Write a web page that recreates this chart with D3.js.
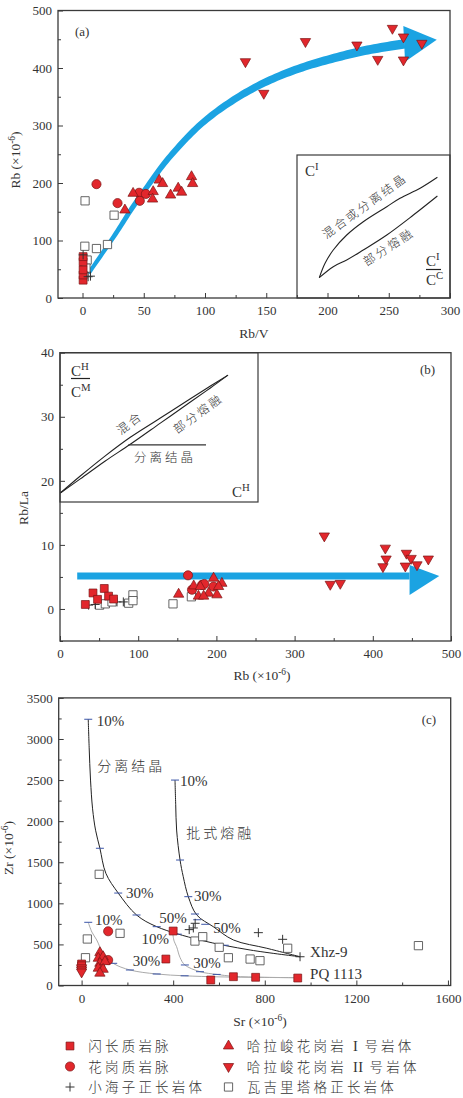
<!DOCTYPE html>
<html><head><meta charset="utf-8">
<script src="https://cdn.jsdelivr.net/npm/d3@7"></script>
<style>
body{margin:0;background:#fff}
svg text{font-family:"Liberation Serif","Times New Roman",serif;fill:#333}
.cjk{font-family:"Noto Sans CJK SC",sans-serif !important;font-weight:300}
</style>
</head><body>
<svg id="chart" width="463" height="1098"></svg>
<script>
// ---------------- DATA ----------------
// Panel (a): Rb/V vs Rb
const aDiorite   = [[0.5,31],[0.5,40],[0.5,49],[0.5,63],[0.5,72]];
const aGranVein  = [[11.4,198],[28.6,165],[46.2,183],[46.8,169],[51.7,181]];
const aXhz       = [[0.5,75],[4.6,37],[6.5,38]];
const aHalaI     = [[34.6,153],[41.3,182],[57.7,185],[57.2,172],[62.6,205],[65.4,199],[71.9,179],[78.1,191],[80.9,184],[89,211],[89.9,199]];
const aHalaII    = [[133,411],[148,356],[182,446],[224,440],[241,415],[253,469],[262,454],[262,414],[277,443]];
const aWajili    = [[2.1,169],[1.9,90],[11.4,86],[20.4,93],[25.8,144],[1.9,57],[3.8,66],[2.8,52]];
const aArrowPath = [[5,43],[17,80],[29,118],[41,158],[55,200],[69,240],[96,301],[123,344],[150,376],[178,400],[205,417],[232,431],[263,442]];
const aArrowHead = [[261.9,473],[289.2,449],[263.3,411]];
const aInsetUpper = [[193.3,35.3],[198,60.3],[204.7,83.5],[215.7,109.6],[229.2,132.7],[248.4,158.8],[259.2,173.4],[275.6,190.8],[289.7,209.9]];
const aInsetLower = [[193.3,35.3],[204.7,54.4],[215.7,66.1],[229.2,83.5],[248.4,109.6],[270.1,144.3],[289.7,177.4]];
const aXTicks = [0,50,100,150,200,250,300], aXMinor = [25,75,125,175,225,275];
const aYTicks = [0,100,200,300,400,500],   aYMinor = [50,150,250,350,450];

// Panel (b): Rb vs Rb/La
const bDiorite  = [[32.4,0.7],[42.2,2.5],[48,1.5],[56.6,3.2],[62.1,2.0],[68.5,1.55]];
const bGranVein = [[163.7,5.25],[168.8,3.0],[181.6,3.75],[184.5,3.9],[196.4,3.5]];
const bXhz      = [[36.6,0.6],[45,0.7],[72.9,1.1],[81,1.1]];
const bHalaI    = [[151.7,2.3],[171,3.6],[179.4,3.5],[196.4,4.8],[207,4.0],[177,2.0],[190,2.45],[200.7,2.2],[202.8,3.5],[183.7,2.0]];
const bHalaII   = [[338,11.4],[416,9.5],[443,8.7],[471,7.8],[417,7.8],[449,7.9],[413,6.6],[441.6,6.7],[456.5,6.9],[345.6,3.85],[358.4,4.0]];
const bWajili   = [[50.6,0.6],[58,0.8],[87.8,0.9],[93.3,2.2],[93.3,1.3],[144.5,0.8],[168,1.9],[66.5,1.1]];
const bArrowPath = [[22,5.15],[447,5.15]];
const bArrowHead = [[447,6.86],[485,5.15],[447,2.18]];
const bInsetUpper = [[0.4,18.1],[25.96,20.75],[57.9,23.9],[89.9,26.8],[128.3,29.8],[166.7,32.8],[192.3,34.8],[214.8,36.5]];
const bInsetLower = [[0.4,18.1],[25.96,20.3],[57.9,23.1],[89.9,25.7],[128.3,29.0],[166.7,32.3],[192.3,34.5],[214.8,36.5]];
const bInsetFC    = [[87.4,25.6],[186.7,25.6]];
const bXTicks = [0,100,200,300,400,500], bXMinor = [50,150,250,350,450];
const bYTicks = [0,10,20,30,40],         bYMinor = [-5,5,15,25,35];

// Panel (c): Sr vs Zr
const cDiorite  = [[400,663],[368,322],[564,67],[663,107],[760,100],[944,91],[0,262],[0,240]];
const cGranVein = [[116,660],[116,310]];
const cXhz      = [[496,757],[488,700],[470,680],[772,643],[878,562],[954,350]];
const cHalaI    = [[80,400],[73,331],[94,350],[80,270],[102,290],[73,210],[94,197],[80,150]];
const cHalaII   = [[0,215],[0,190],[0,165]];
const cWajili   = [[77,1353],[25,566],[17,338],[168,635],[495,541],[529,594],[601,465],[641,338],[736,322],[779,302],[900,453],[1471,485]];
const cFC  = [[29,3240],[33,2900],[39,2500],[48,2150],[61,1890],[80,1670],[106,1365],[160,1125],[240,858],[328,716],[517,554],[736,432],[954,350]];
const cBM  = [[408,2500],[411,2200],[415,1892],[430,1527],[444,1324],[466,1081],[503,858],[575,716],[663,554],[809,453],[954,350]];
const cPQ1 = [[29,769],[45,650],[66,554],[94,392],[138,270],[211,189],[328,140],[450,118],[600,105],[800,98],[947,95]];
const cPQ2 = [[398,640],[404,540],[415,472],[430,340],[451,250],[517,168],[590,135],[663,112],[800,100],[947,95]];
const cFCTicks  = [[29,3240],[80,1670],[160,1125],[240,858],[328,716],[420,625],[517,554],[625,490]];
const cBMTicks  = [[408,2500],[430,1527],[466,1081],[495,870],[505,800],[540,745]];
const cPQ1Ticks = [[29,769],[138,270],[211,189],[328,140],[450,118]];
const cPQ2Ticks = [[398,640],[451,250],[517,168],[590,135]];
const cLabels = [[66,3158,"10%"],[430,2428,"10%"],[194,1065,"30%"],[491,1028,"30%"],[339,760,"50%"],[575,639,"50%"],
                 [58,736,"10%"],[262,505,"10%"],[223,237,"30%"],[488,219,"30%"],[998,343,"Xhz-9"],[998,79,"PQ 1113"]];
const cCnLabels = [[68,2610,"分离结晶"],[457,1795,"批式熔融"]];
const cXTicks = [0,400,800,1200,1600], cXMinor = [200,600,1000,1400];
const cYTicks = [0,500,1000,1500,2000,2500,3000,3500], cYMinor = [250,750,1250,1750,2250,2750,3250];

// Legend
const legendNames = [["闪长质岩脉"],["花岗质岩脉"],["小海子正长岩体"],["哈拉峻花岗岩","I","号岩体"],["哈拉峻花岗岩","II","号岩体"],["瓦吉里塔格正长岩体"]];
const legendTypes = ["sq","ci","plus","tu","td","osq"];

// ---------------- DRAWING ----------------
const RED = "#e2272c", REDS = "#7a1515", BLUE = "#1ba3e2", AX = "#3a3a3a";
const svg = d3.select("#chart");

function marker(g, type, x, y) {
  if (type === "plus") {
    g.append("path").attr("d", `M${x-4.5},${y}H${x+4.5}M${x},${y-4.5}V${y+4.5}`)
      .attr("stroke", "#333").attr("stroke-width", 1).attr("fill", "none");
    return;
  }
  const map = {sq:[d3.symbolSquare,62], osq:[d3.symbolSquare,68], ci:[d3.symbolCircle,66], tu:[d3.symbolTriangle,46], td:[d3.symbolTriangle,46]};
  const [t, s] = map[type];
  const p = g.append("path").attr("d", d3.symbol(t, s)())
    .attr("transform", `translate(${x},${y})` + (type === "td" ? " rotate(180)" : ""));
  if (type === "osq") p.attr("fill", "#fff").attr("stroke", "#555").attr("stroke-width", 0.9);
  else p.attr("fill", RED).attr("stroke", REDS).attr("stroke-width", 0.7);
}

function series(g, x, y, data, type) {
  data.forEach(d => marker(g, type, x(d[0]), y(d[1])));
}

function axes(g, x, y, xt, xm, yt, ym) {
  const [x0, x1] = x.range(), [y0, y1] = y.range();
  const bx = g.append("g").attr("transform", `translate(0,${y0})`);
  bx.call(d3.axisBottom(x).tickValues(xt).tickSize(-5).tickSizeOuter(0).tickPadding(8).tickFormat(d3.format("d")));
  bx.append("g").call(d3.axisBottom(x).tickValues(xm).tickSize(-3).tickSizeOuter(0).tickFormat(""));
  const ly = g.append("g").attr("transform", `translate(${x0},0)`);
  ly.call(d3.axisLeft(y).tickValues(yt).tickSize(-5).tickSizeOuter(0).tickPadding(6).tickFormat(d3.format("d")));
  ly.append("g").call(d3.axisLeft(y).tickValues(ym).tickSize(-3).tickSizeOuter(0).tickFormat(""));
  g.selectAll(".domain").remove();
  g.selectAll(".tick line").attr("stroke", AX).attr("stroke-width", 1);
  g.selectAll(".tick text").attr("font-size", 13).attr("fill", "#333").attr("font-family", "Liberation Serif");
  g.append("rect").attr("x", x0).attr("y", y1).attr("width", x1 - x0).attr("height", y0 - y1)
    .attr("fill", "none").attr("stroke", AX).attr("stroke-width", 1.3);
}

function taperArrow(g, pts, w0, w1) {
  const tmp = g.append("path").attr("d", d3.line().curve(d3.curveCatmullRom)(pts)).attr("fill", "none");
  const node = tmp.node(), L = node.getTotalLength(), N = 120;
  const samp = d3.range(N + 1).map(i => node.getPointAtLength(L * i / N));
  const left = [], right = [];
  samp.forEach((p, i) => {
    const a = samp[Math.max(0, i - 1)], b = samp[Math.min(N, i + 1)];
    const dx = b.x - a.x, dy = b.y - a.y, len = Math.hypot(dx, dy) || 1;
    const nx = -dy / len, ny = dx / len, w = (w0 + (w1 - w0) * i / N) / 2;
    left.push([p.x + nx * w, p.y + ny * w]);
    right.push([p.x - nx * w, p.y - ny * w]);
  });
  tmp.remove();
  g.append("path").attr("d", d3.line()(left.concat(right.reverse())) + "Z").attr("fill", BLUE);
}

function txt(g, x, y, s, size, opts = {}) {
  const t = g.append("text").attr("x", x).attr("y", y).attr("font-size", size).text(s);
  if (opts.anchor) t.attr("text-anchor", opts.anchor);
  if (opts.cjk) t.attr("class", "cjk");
  if (opts.ls) t.attr("letter-spacing", opts.ls);
  if (opts.rot !== undefined) t.attr("transform", `rotate(${opts.rot},${x},${y})`).attr("dominant-baseline", "central");
  return t;
}
function supText(g, x, y, base, sup, size) {
  const t = g.append("text").attr("x", x).attr("y", y).attr("font-size", size);
  t.append("tspan").text(base);
  t.append("tspan").attr("dy", -size * 0.42).attr("font-size", size * 0.72).text(sup);
  return t;
}
function unitTitle(g, x, y, base, size, rot) {
  const t = g.append("text").attr("x", x).attr("y", y).attr("font-size", size).attr("text-anchor", "middle");
  if (rot) t.attr("transform", `rotate(${rot},${x},${y})`);
  t.append("tspan").text(base + " (×10");
  t.append("tspan").attr("dy", -size * 0.38).attr("font-size", size * 0.7).text("-6");
  t.append("tspan").attr("dy", size * 0.38).text(")");
  return t;
}

// ===== Panel (a) =====
{
  const g = svg.append("g");
  const x = d3.scaleLinear([-20, 300], [58, 450]);
  const y = d3.scaleLinear([0, 500], [298, 10.5]);
  const ix0 = 297, iy0 = 155;
  g.append("rect").attr("x", ix0).attr("y", iy0).attr("width", 450 - ix0).attr("height", 298 - iy0)
    .attr("fill", "#fff").attr("stroke", AX).attr("stroke-width", 1.2);
  const line = d3.line().x(d => x(d[0])).y(d => y(d[1])).curve(d3.curveCatmullRom);
  g.append("path").attr("d", line(aInsetUpper)).attr("fill", "none").attr("stroke", "#222").attr("stroke-width", 1.1);
  g.append("path").attr("d", line(aInsetLower)).attr("fill", "none").attr("stroke", "#222").attr("stroke-width", 1.1);
  supText(g, 305, 176, "C", "I", 15);
  txt(g, 364, 205, "混合或分离结晶", 12, {cjk: true, anchor: "middle", rot: -36, ls: 2.5});
  txt(g, 388, 246, "部分熔融", 12, {cjk: true, anchor: "middle", rot: -33, ls: 2.5});
  supText(g, 426, 266, "C", "I", 15);
  g.append("line").attr("x1", 426).attr("x2", 441).attr("y1", 269.5).attr("y2", 269.5).attr("stroke", "#222").attr("stroke-width", 1.2);
  supText(g, 426, 285, "C", "C", 15);

  axes(g, x, y, aXTicks, aXMinor, aYTicks, aYMinor);
  taperArrow(g, aArrowPath.map(d => [x(d[0]), y(d[1])]), 4, 9.5);
  g.append("path").attr("d", d3.line()(aArrowHead.map(d => [x(d[0]), y(d[1])])) + "Z").attr("fill", BLUE);

  series(g, x, y, aWajili, "osq");
  series(g, x, y, aDiorite, "sq");
  series(g, x, y, aXhz, "plus");
  series(g, x, y, aGranVein, "ci");
  series(g, x, y, aHalaI, "tu");
  series(g, x, y, aHalaII, "td");

  txt(g, 75, 36, "(a)", 13);
  txt(g, 254, 338, "Rb/V", 13.5, {anchor: "middle"});
  unitTitle(g, 20, 160, "Rb", 13.5, -90);
}

// ===== Panel (b) =====
{
  const g = svg.append("g");
  const x = d3.scaleLinear([0, 500], [60, 451]);
  const y = d3.scaleLinear([-5, 40], [641, 352.7]);
  g.append("rect").attr("x", 60).attr("y", 352.7).attr("width", 198).attr("height", 502 - 352.7)
    .attr("fill", "#fff").attr("stroke", AX).attr("stroke-width", 1.2);
  const line = d3.line().x(d => x(d[0])).y(d => y(d[1])).curve(d3.curveCatmullRom);
  g.append("path").attr("d", line(bInsetUpper)).attr("fill", "none").attr("stroke", "#222").attr("stroke-width", 1.1);
  g.append("path").attr("d", line(bInsetLower)).attr("fill", "none").attr("stroke", "#222").attr("stroke-width", 1.1);
  g.append("path").attr("d", d3.line().x(d => x(d[0])).y(d => y(d[1]))(bInsetFC)).attr("fill", "none").attr("stroke", "#333").attr("stroke-width", 1.2);
  supText(g, 71, 376, "C", "H", 15);
  g.append("line").attr("x1", 71).attr("x2", 90).attr("y1", 378.5).attr("y2", 378.5).attr("stroke", "#222").attr("stroke-width", 1.2);
  supText(g, 71, 397, "C", "M", 15);
  txt(g, 129, 422, "混合", 12, {cjk: true, anchor: "middle", rot: -37, ls: 2.5});
  txt(g, 197.5, 412.5, "部分熔融", 12, {cjk: true, anchor: "middle", rot: -36, ls: 2.5});
  txt(g, 165, 462, "分离结晶", 12.5, {cjk: true, anchor: "middle", ls: 3});
  supText(g, 232, 497, "C", "H", 15);

  axes(g, x, y, bXTicks, bXMinor, bYTicks, bYMinor);
  g.append("path").attr("d", d3.line()(bArrowPath.map(d => [x(d[0]), y(d[1])]))).attr("stroke", BLUE).attr("stroke-width", 7).attr("fill", "none");
  g.append("path").attr("d", d3.line()(bArrowHead.map(d => [x(d[0]), y(d[1])])) + "Z").attr("fill", BLUE);

  series(g, x, y, bWajili, "osq");
  series(g, x, y, bXhz, "plus");
  series(g, x, y, bDiorite, "sq");
  series(g, x, y, bGranVein, "ci");
  series(g, x, y, bHalaI, "tu");
  series(g, x, y, bHalaII, "td");

  txt(g, 420, 374, "(b)", 13);
  unitTitle(g, 262, 680, "Rb", 13.5);
  txt(g, 28, 508, "Rb/La", 13.5, {anchor: "middle"}).attr("transform", "rotate(-90,28,508)");
}

// ===== Panel (c) =====
{
  const g = svg.append("g");
  const x = d3.scaleLinear([-100, 1612], [58.7, 450.7]);
  const y = d3.scaleLinear([0, 3500], [985.5, 697.9]);
  axes(g, x, y, cXTicks, cXMinor, cYTicks, cYMinor);
  const line = d3.line().x(d => x(d[0])).y(d => y(d[1])).curve(d3.curveCatmullRom);
  g.append("path").attr("d", line(cPQ1)).attr("fill", "none").attr("stroke", "#aaa").attr("stroke-width", 1);
  g.append("path").attr("d", line(cPQ2)).attr("fill", "none").attr("stroke", "#aaa").attr("stroke-width", 1);
  g.append("path").attr("d", line(cFC)).attr("fill", "none").attr("stroke", "#222").attr("stroke-width", 1);
  g.append("path").attr("d", line(cBM)).attr("fill", "none").attr("stroke", "#222").attr("stroke-width", 1);
  [cFCTicks, cBMTicks, cPQ1Ticks, cPQ2Ticks].forEach(arr => arr.forEach(d => {
    g.append("line").attr("x1", x(d[0]) - 4).attr("x2", x(d[0]) + 4).attr("y1", y(d[1])).attr("y2", y(d[1]))
      .attr("stroke", "#3b55a8").attr("stroke-width", 1);
  }));

  series(g, x, y, cWajili, "osq");
  series(g, x, y, cXhz, "plus");
  series(g, x, y, cDiorite, "sq");
  series(g, x, y, cGranVein, "ci");
  series(g, x, y, cHalaI, "tu");
  series(g, x, y, cHalaII, "td");

  cLabels.forEach(d => txt(g, x(d[0]), y(d[1]), d[2], 15));
  cCnLabels.forEach(d => txt(g, x(d[0]), y(d[1]), d[2], 14, {cjk: true, ls: 3}));
  txt(g, 421.7, 724, "(c)", 13);
  unitTitle(g, 260, 1026, "Sr", 13.5);
  unitTitle(g, 13, 848, "Zr", 13.5, -90);
}

// ===== Legend =====
{
  const g = svg.append("g");
  const cols = [70, 228.5], tx = [88.3, 246.7], rows = [1046, 1066.5, 1087];
  legendNames.forEach((parts, i) => {
    const c = Math.floor(i / 3), r = i % 3;
    marker(g, legendTypes[i], cols[c], rows[r]);
    const t = g.append("text").attr("x", tx[c]).attr("y", rows[r] + 5).attr("font-size", 13.5)
      .attr("letter-spacing", 3.2).attr("fill", "#444");
    parts.forEach((p, k) => {
      if (k === 1) {
        t.append("tspan").attr("class", "cjk").text(" ");
        t.append("tspan").attr("font-family", "Liberation Serif").attr("font-size", 14.5).attr("letter-spacing", 0.3).text(p);
        t.append("tspan").attr("class", "cjk").text(" ");
      } else {
        t.append("tspan").attr("class", "cjk").text(p);
      }
    });
  });
}
</script>
</body></html>
